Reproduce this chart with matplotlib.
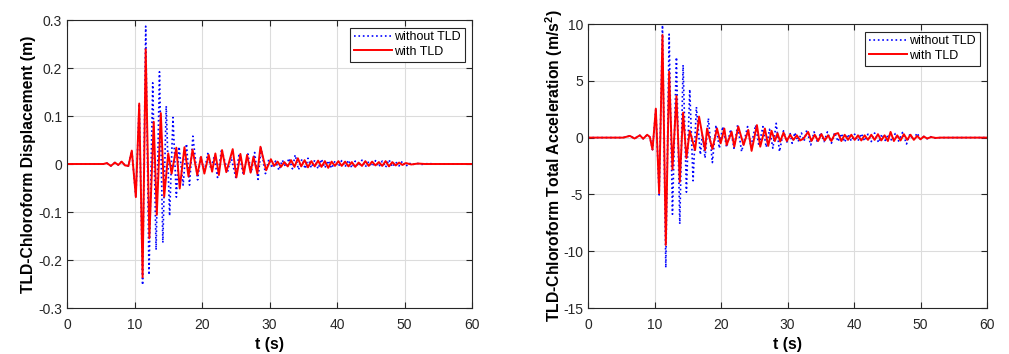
import numpy as np
import matplotlib.pyplot as plt
from matplotlib.ticker import FuncFormatter

plt.rcParams['font.family'] = ['Liberation Sans', 'DejaVu Sans']
plt.rcParams['axes.unicode_minus'] = False
plt.rcParams['mathtext.fontset'] = 'custom'
plt.rcParams['mathtext.rm'] = 'Liberation Sans'
plt.rcParams['mathtext.bf'] = 'Liberation Sans:bold'

# Displacement (m), peaks/troughs
t_disp_nt = [0, 5.4, 5.9, 6.5, 7.1, 7.6, 8.1, 8.6, 9.1, 9.6, 10.2, 10.7, 11.2, 11.66, 12.15,
             12.7, 13.2, 13.7, 14.2, 14.7, 15.2, 15.7, 16.2, 16.6, 17.2, 17.7, 18.15, 18.65,
             19.35, 19.8, 20.35, 20.85, 21.3, 21.8, 22.3, 22.9, 23.8, 24.3, 25.0, 25.5, 26.1,
             26.8, 27.3, 27.8, 28.3, 28.75, 29.4, 29.9, 30.4, 30.9, 31.4, 31.9, 32.4, 32.9,
             33.4, 33.8, 34.3, 34.8, 35.3, 35.7, 36.2, 36.7, 37.2, 37.7, 38.2, 38.7, 39.2,
             39.7, 40.2, 40.7, 41.2, 41.7, 42.2, 42.7, 43.2, 43.7, 44.2, 44.7, 45.2, 45.7,
             46.2, 46.7, 47.2, 47.7, 48.2, 48.7, 49.2, 49.7, 50.2, 50.7, 51.2, 51.7, 52.5,
             53.5, 54.5, 60]
disp_nt = [0, 0, 0.002, -0.004, 0.003, -0.002, 0.005, -0.003, -0.004, 0.028, -0.069, 0.126,
           -0.252, 0.287, -0.231, 0.169, -0.179, 0.192, -0.164, 0.121, -0.108, 0.097, -0.069,
           0.036, -0.044, 0.042, -0.044, 0.058, -0.033, 0.015, -0.016, 0.022, -0.010, 0.015,
           -0.028, 0.031, -0.016, 0.015, -0.028, 0.022, -0.021, 0.021, -0.018, 0.024, -0.032,
           0.033, -0.020, 0.010, -0.008, 0.006, -0.013, 0.008, -0.006, 0.012, -0.010, 0.019,
           -0.012, 0.010, -0.010, 0.012, -0.008, 0.008, -0.010, 0.010, -0.008, 0.007, -0.009,
           0.006, -0.005, 0.007, -0.006, 0.008, -0.008, 0.006, -0.005, 0.008, -0.006, 0.005,
           -0.005, 0.007, -0.006, 0.006, -0.007, 0.009, -0.006, 0.004, -0.004, 0.006, -0.005,
           0.002, -0.002, 0.002, -0.001, 0.001, 0, 0]

t_disp_wt = [0, 5.4, 5.9, 6.5, 7.1, 7.6, 8.1, 8.6, 9.1, 9.6, 10.2, 10.7, 11.2, 11.66, 12.2,
             12.85, 13.3, 13.9, 14.4, 15.0, 15.5, 16.2, 16.7, 17.4, 18.0, 18.6, 19.3, 19.85,
             20.35, 20.99, 21.5, 21.98, 22.5, 22.97, 23.6, 24.55, 25.1, 25.69, 26.2, 26.68,
             27.2, 27.62, 28.2, 28.66, 29.5, 30.2, 30.7, 31.2, 31.7, 32.2, 32.7, 33.2, 33.7,
             34.2, 34.7, 35.2, 35.7, 36.2, 36.7, 37.2, 37.7, 38.2, 38.7, 39.2, 39.7, 40.2,
             40.7, 41.2, 41.7, 42.2, 42.7, 43.2, 43.7, 44.2, 44.7, 45.2, 45.7, 46.2, 46.7,
             47.2, 47.7, 48.2, 48.7, 49.2, 49.7, 50.2, 51.0, 52.0, 53.0, 60]
disp_wt = [0, 0, 0.002, -0.004, 0.003, -0.002, 0.005, -0.003, -0.004, 0.028, -0.069, 0.126,
           -0.236, 0.239, -0.155, 0.088, -0.106, 0.106, -0.068, 0.022, -0.020, 0.034, -0.051,
           0.035, -0.026, 0.030, -0.023, 0.015, -0.020, 0.019, -0.016, 0.022, -0.023, 0.029,
           -0.017, 0.031, -0.028, 0.021, -0.021, 0.019, -0.018, 0.015, -0.020, 0.036, -0.013,
           0.010, -0.004, 0.005, -0.006, 0.004, -0.005, 0.008, -0.006, 0.012, -0.005, 0.008,
           -0.007, 0.006, -0.005, 0.007, -0.006, 0.006, -0.008, 0.005, -0.004, 0.006, -0.004,
           0.005, -0.005, 0.004, -0.006, 0.003, -0.004, 0.006, -0.004, 0.005, -0.003, 0.004,
           -0.004, 0.006, -0.005, 0.004, -0.003, 0.003, -0.002, 0.002, -0.001, 0.001,
           0, 0]

# Total acceleration (m/s^2)
t_acc_nt = [0, 5.3, 6.3, 7.0, 7.8, 8.3, 8.9, 9.3, 9.7, 10.2, 10.7, 11.2, 11.7, 12.2, 12.7,
            13.3, 13.8, 14.3, 14.8, 15.3, 15.8, 16.3, 16.9, 17.2, 17.6, 18.1, 18.7, 19.25,
            19.75, 20.25, 20.85, 21.45, 21.95, 22.5, 23.1, 24.0, 24.5, 25.2, 25.7, 26.3, 26.8,
            27.3, 27.8, 28.3, 28.8, 29.4, 29.9, 30.4, 30.7, 31.1, 31.6, 32.1, 32.5, 32.9,
            33.5, 34.0, 34.5, 35.0, 35.5, 36.0, 36.6, 37.1, 37.6, 38.1, 38.6, 39.1, 39.6,
            40.1, 40.6, 41.1, 41.6, 42.1, 42.6, 43.1, 43.7, 44.2, 44.7, 45.2, 45.7, 46.2,
            46.7, 47.3, 47.9, 48.4, 48.9, 49.5, 50.0, 50.5, 51.0, 51.5, 52.2, 53.0, 60]
acc_nt = [0, 0, 0.15, -0.08, 0.2, -0.1, 0.25, 0.05, -1.06, 2.55, -5.05, 9.9, -11.45, 9.1,
          -6.75, 7.07, -7.6, 6.4, -4.8, 4.25, -3.8, 2.7, -1.5, 0.3, -1.8, 1.7, -2.2, 1.1,
          -0.94, 0.97, -0.85, 0.73, -0.94, 1.1, -1.23, 0.97, -0.8, 1.1, -0.73, 0.97, -0.85,
          0.73, -0.94, 1.26, -1.23, 0.6, -0.4, 0.35, -0.5, 0.44, -0.35, 0.4, -0.3, 0.67,
          -0.65, 0.5, -0.4, 0.45, -0.35, 0.5, -0.5, 0.45, -0.35, 0.35, -0.4, 0.3, -0.3, 0.3,
          -0.3, 0.35, -0.3, 0.3, -0.35, 0.4, -0.44, 0.3, -0.25, 0.3, -0.3, 0.35, -0.3, 0.45,
          -0.56, 0.3, -0.2, 0.4, -0.15, 0.1, -0.1, 0.08, -0.05, 0, 0]

t_acc_wt = [0, 5.3, 6.3, 7.0, 7.8, 8.3, 8.9, 9.3, 9.7, 10.2, 10.7, 11.2, 11.7, 12.2, 12.7,
            13.3, 13.8, 14.3, 14.8, 15.3, 16.1, 16.7, 17.6, 17.9, 18.7, 19.4, 19.95, 20.5,
            20.85, 21.6, 22.0, 22.6, 23.4, 24.1, 24.6, 25.4, 25.9, 26.6, 27.1, 27.6, 28.1,
            28.5, 28.9, 29.4, 29.9, 30.4, 30.9, 31.4, 31.9, 32.4, 33.1, 33.6, 34.1, 34.6,
            35.1, 35.6, 36.1, 36.6, 37.1, 37.6, 38.1, 38.6, 39.1, 39.6, 40.1, 40.6, 41.1,
            41.6, 42.1, 42.6, 43.1, 43.6, 44.1, 44.6, 45.1, 45.5, 46.0, 46.5, 47.0, 47.5,
            48.0, 48.5, 49.0, 49.5, 50.0, 50.5, 51.0, 51.6, 52.3, 53.0, 60]
acc_wt = [0, 0, 0.15, -0.08, 0.2, -0.1, 0.25, 0.05, -1.06, 2.55, -4.9, 9.03, -9.45, 5.8,
          -2.8, 3.66, -3.9, 2.2, -1.8, 0.6, -1.1, 1.85, -1.1, 0.8, -1.0, 0.8, -0.5, 0.8,
          -0.65, 0.5, -0.8, 0.97, -0.65, 0.67, -1.17, 1.1, -0.8, 0.8, -0.73, 0.6, -0.3,
          0.38, -0.35, 0.44, -0.3, 0.25, -0.2, 0.2, -0.25, -0.1, 0.5, -0.3, 0.25, -0.3, 0.3,
          -0.25, 0.2, -0.3, 0.3, 0.4, -0.3, 0.25, -0.2, 0.25, -0.2, 0.2, -0.25, 0.2, -0.2,
          0.25, -0.2, 0.3, -0.25, 0.2, -0.3, 0.5, -0.3, 0.2, -0.25, 0.3, -0.2, 0.25, -0.2,
          0.15, -0.15, 0.1, -0.08, 0.05, -0.03, 0, 0]

panels = [
    dict(t_nt=t_disp_nt, y_nt=disp_nt, t_wt=t_disp_wt, y_wt=disp_wt,
         ylim=(-0.3, 0.3), yticks=np.arange(-0.3, 0.31, 0.1),
         ylabel='TLD-Chloroform Displacement (m)', labelpad=1.5,
         rect=[67/1009, 46/354, 405/1009, 288/354]),
    dict(t_nt=t_acc_nt, y_nt=acc_nt, t_wt=t_acc_wt, y_wt=acc_wt,
         ylim=(-15, 10), yticks=np.arange(-15, 11, 5),
         ylabel=r'TLD-Chloroform Total Acceleration (m/s$^{\mathbf{2}}$)', labelpad=-1,
         rect=[588/1009, 46/354, 399/1009, 284/354]),
]

fig = plt.figure(figsize=(10.09, 3.54), dpi=100)

for p in panels:
    ax = fig.add_axes(p['rect'])
    ax.plot(p['t_nt'], p['y_nt'], color='blue', linestyle=':', linewidth=1.2, label='without TLD')
    ax.plot(p['t_wt'], p['y_wt'], color='red', linestyle='-', linewidth=1.4, label='with TLD')
    ax.set_xlim(0, 60)
    ax.set_ylim(*p['ylim'])
    ax.set_xticks(np.arange(0, 61, 10))
    ax.set_yticks(p['yticks'])
    ax.yaxis.set_major_formatter(FuncFormatter(lambda v, pos: f'{v:g}' if abs(v) > 1e-9 else '0'))
    ax.grid(True, color='#dcdcdc', linewidth=0.8)
    ax.set_axisbelow(True)
    ax.tick_params(direction='in', top=True, right=True, labelsize=10,
                   colors='#262626', length=4, width=0.8)
    ax.tick_params(axis='x', pad=7)
    for s in ax.spines.values():
        s.set_color('#262626')
        s.set_linewidth(0.8)
    ax.set_xlabel('t (s)', fontsize=11.3, fontweight='bold', labelpad=4)
    ax.set_ylabel(p['ylabel'], fontsize=11.3, fontweight='bold', labelpad=p['labelpad'])
    leg = ax.legend(loc='upper right', fontsize=9, fancybox=False, framealpha=1,
                    edgecolor='#262626', borderpad=0.3, labelspacing=0.2,
                    handlelength=3.0, handletextpad=0.2, borderaxespad=0.6)
    leg.get_frame().set_linewidth(0.8)

fig.savefig('out.png', dpi=100)
